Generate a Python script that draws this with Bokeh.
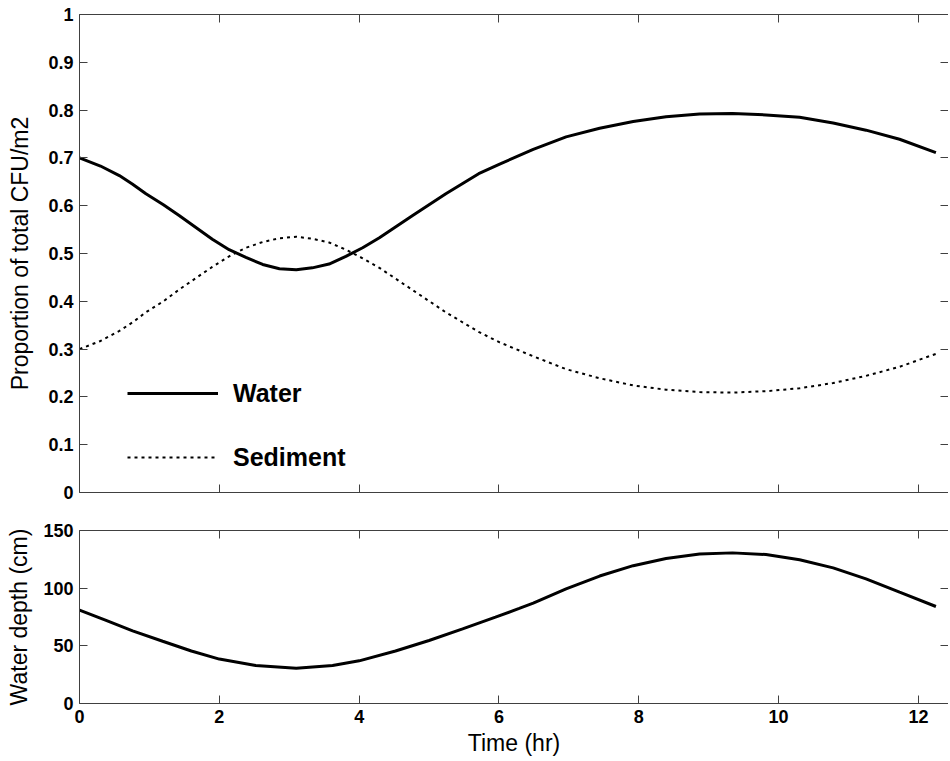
from bokeh.plotting import figure
from bokeh.layouts import column
from bokeh.models import (Range1d, LinearAxis, FixedTicker, Legend, LegendItem,
                          CustomLabelingPolicy)
from bokeh.embed import file_html
from bokeh.resources import INLINE

# ---- data ----
time_prop = [0, 0.3, 0.57, 0.76, 0.95, 1.2, 1.43, 1.9, 2.14, 2.38, 2.62, 2.86,
             3.1, 3.33, 3.57, 3.81, 4.05, 4.29, 4.76, 5.24, 5.71, 6.01, 6.49,
             6.96, 7.44, 7.92, 8.39, 8.87, 9.34, 9.82, 10.3, 10.78, 11.25,
             11.73, 12.25]
water = [0.700, 0.683, 0.663, 0.645, 0.625, 0.602, 0.579, 0.530, 0.508, 0.492,
         0.477, 0.468, 0.466, 0.470, 0.478, 0.494, 0.512, 0.533, 0.579, 0.625,
         0.667, 0.687, 0.718, 0.744, 0.762, 0.776, 0.786, 0.792, 0.793, 0.790,
         0.785, 0.773, 0.758, 0.739, 0.711]
sediment = [0.300, 0.317, 0.338, 0.356, 0.377, 0.400, 0.425, 0.472, 0.494, 0.512,
            0.524, 0.532, 0.535, 0.531, 0.523, 0.508, 0.490, 0.470, 0.424, 0.377,
            0.336, 0.314, 0.285, 0.258, 0.239, 0.224, 0.215, 0.210, 0.209, 0.212,
            0.218, 0.229, 0.244, 0.263, 0.290]

time_depth = [0, 0.38, 0.76, 1.19, 1.6, 2.0, 2.52, 3.1, 3.62, 4.0, 4.52, 5.0,
              5.48, 5.95, 6.29, 6.49, 6.96, 7.44, 7.92, 8.39, 8.87, 9.34, 9.82,
              10.3, 10.78, 11.25, 11.73, 12.25]
depth_cm = [81, 72, 63, 54, 45.5, 38.5, 33, 30.6, 33, 37, 45.5, 54.6,
            64.7, 74.9, 82.4, 87, 99.4, 110.5, 119.5, 125.8, 129.6, 130.6, 129.2,
            124.6, 117.6, 108.1, 96.5, 84.1]

x_ticks = [0, 2, 4, 6, 8, 10, 12]
x_labels = ["0", "2", "4", "6", "8", "10", "12"]
y1_ticks = [0, 0.1, 0.2, 0.3, 0.4, 0.5, 0.6, 0.7, 0.8, 0.9, 1]
y1_labels = ["0", "0.1", "0.2", "0.3", "0.4", "0.5", "0.6", "0.7", "0.8", "0.9", "1"]
y2_ticks = [0, 50, 100, 150]
y2_labels = ["0", "50", "100", "150"]

FONT = "Liberation Sans"
AX = "#404040"

xr = Range1d(0, 12.43)


def style_axis(ax, ticks, labels, show_labels=True):
    ax.ticker = FixedTicker(ticks=ticks)
    ax.axis_line_color = AX
    ax.axis_line_width = 1
    ax.major_tick_line_color = AX
    ax.major_tick_in = 8
    ax.major_tick_out = 0
    ax.minor_tick_line_color = None
    ax.major_label_text_font = FONT
    ax.major_label_text_font_style = "bold"
    ax.major_label_text_color = "black"
    if show_labels:
        ax.major_label_text_font_size = "18px"
        ax.major_label_overrides = {t: l for t, l in zip(ticks, labels)}
        ax.major_label_standoff = 6
    else:
        ax.major_label_text_font_size = "0px"
        ax.major_label_policy = CustomLabelingPolicy(
            code="for (const i of indices) indices.unset(i); return indices")
        ax.major_label_standoff = 0
    ax.axis_label_text_font = FONT
    ax.axis_label_text_font_style = "normal"
    ax.axis_label_text_font_size = "23px"
    ax.axis_label_text_color = "black"


def add_box_axes(p, xt, yt):
    top = LinearAxis()
    style_axis(top, xt, None, show_labels=False)
    p.add_layout(top, "above")
    right = LinearAxis()
    style_axis(right, yt, None, show_labels=False)
    p.add_layout(right, "right")


def base_fig(height, yr, top, bottom):
    p = figure(width=948, height=height, x_range=xr, y_range=yr,
               output_backend="svg", toolbar_location=None,
               min_border_left=79, min_border_right=0, min_border_top=top,
               min_border_bottom=bottom)
    p.outline_line_color = None
    p.grid.visible = False
    p.background_fill_color = "white"
    p.border_fill_color = "white"
    return p


# ---- top panel ----
p1 = base_fig(511, Range1d(0, 1), 14, 19)
r_w = p1.line(time_prop, water, line_color="black", line_width=3)
r_s = p1.line(time_prop, sediment, line_color="black", line_width=2, line_dash="3 4")

style_axis(p1.xaxis[0], x_ticks, x_labels, show_labels=False)
style_axis(p1.yaxis[0], y1_ticks, y1_labels)
p1.yaxis[0].axis_label = "Proportion of total CFU/m2"
p1.yaxis[0].axis_label_standoff = 12
add_box_axes(p1, x_ticks, y1_ticks)

legend = Legend(items=[LegendItem(label="Water", renderers=[r_w]),
                       LegendItem(label="Sediment", renderers=[r_s])],
                location=(48, 20))
legend.border_line_color = None
legend.background_fill_alpha = 0
legend.padding = 0
legend.margin = 0
legend.glyph_width = 91
legend.glyph_height = 30
legend.label_height = 30
legend.label_standoff = 15
legend.spacing = 34
legend.label_text_font = FONT
legend.label_text_font_style = "bold"
legend.label_text_font_size = "25px"
legend.label_text_color = "black"
p1.add_layout(legend, "center")

# ---- bottom panel ----
p2 = base_fig(248, Range1d(0, 150), 19, 56)
p2.line(time_depth, depth_cm, line_color="black", line_width=3)

style_axis(p2.xaxis[0], x_ticks, x_labels)
p2.xaxis[0].axis_label = "Time (hr)"
p2.xaxis[0].axis_label_standoff = 4
style_axis(p2.yaxis[0], y2_ticks, y2_labels)
p2.yaxis[0].axis_label = "Water depth (cm)"
p2.yaxis[0].axis_label_standoff = 8
add_box_axes(p2, x_ticks, y2_ticks)

layout = column(p1, p2, spacing=0)
open("out.html", "w").write(file_html(layout, INLINE))
